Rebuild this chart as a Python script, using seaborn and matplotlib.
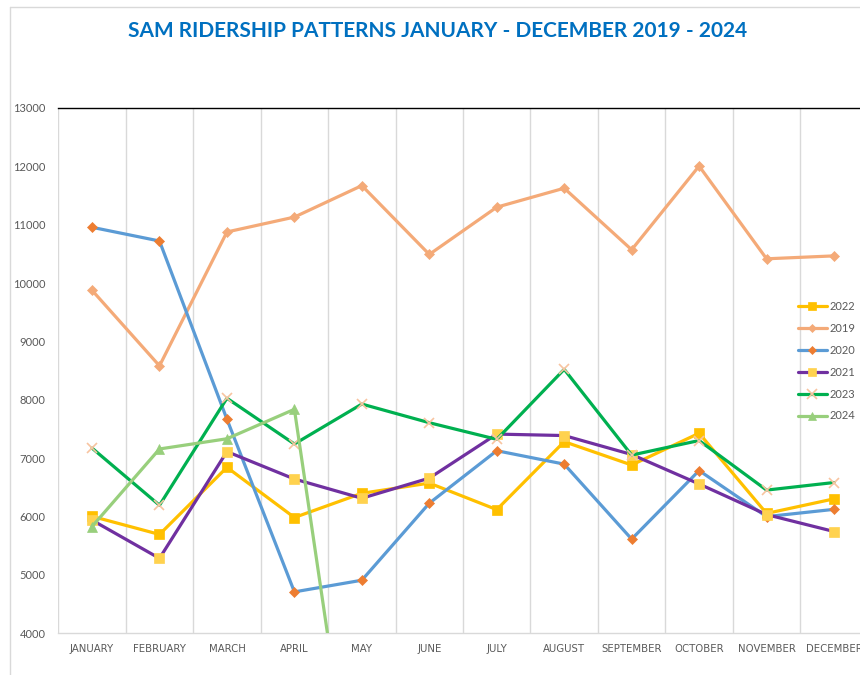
import numpy as np
import pandas as pd
import matplotlib
matplotlib.use("Agg")
import matplotlib.pyplot as plt
from matplotlib.lines import Line2D
import seaborn as sns

months = ["JANUARY", "FEBRUARY", "MARCH", "APRIL", "MAY", "JUNE", "JULY",
          "AUGUST", "SEPTEMBER", "OCTOBER", "NOVEMBER", "DECEMBER"]

y2022 = [6000, 5690, 6840, 5980, 6395, 6570, 6115, 7280, 6880, 7425, 6050, 6300]
y2019 = [9875, 8580, 10875, 11130, 11670, 10490, 11300, 11625, 10570, 12005, 10415, 10465]
y2020 = [10955, 10720, 7665, 4705, 4905, 6225, 7125, 6895, 5610, 6785, 5995, 6120]
y2021 = [5935, 5280, 7110, 6640, 6310, 6655, 7410, 7385, 7060, 6555, 6030, 5740]
y2023 = [7170, 6190, 8025, 7240, 7925, 7605, 7320, 8520, 7050, 7300, 6450, 6580]
y2024 = [5825, 7155, 7330, 7835, 0, np.nan, np.nan, np.nan, np.nan, np.nan, np.nan, np.nan]

years = ["2022", "2019", "2020", "2021", "2023", "2024"]
values = [y2022, y2019, y2020, y2021, y2023, y2024]

styles = {
    "2022": dict(color="#FFC000", marker="s", mfc="#FFC000", mec="#FFC000", ms=6.5),
    "2019": dict(color="#F4AA78", marker="D", mfc="#F4AA78", mec="#F4AA78", ms=5),
    "2020": dict(color="#5B9BD5", marker="D", mfc="#ED7D31", mec="#ED7D31", ms=5),
    "2021": dict(color="#7030A0", marker="s", mfc="#FFD24F", mec="#FFD24F", ms=6.5),
    "2023": dict(color="#00B050", marker="x", mfc="#F8C4A0", mec="#F8C4A0", ms=7),
    "2024": dict(color="#98CF7C", marker="^", mfc="#98CF7C", mec="#98CF7C", ms=6.5),
}

rows = []
for yr, vals in zip(years, values):
    for i, (m, v) in enumerate(zip(months, vals)):
        rows.append({"year": yr, "month": m, "pos": i, "riders": v})
df = pd.DataFrame(rows)

sns.set_theme(style="white")
plt.rcParams["font.family"] = ["Lato", "DejaVu Sans"]

fig = plt.figure(figsize=(8.6, 6.75), dpi=100)
ax = fig.add_axes([0.0678, 0.0622, 0.9412, 0.7778])

handles = {}
for yr in years:
    st = styles[yr]
    sub = df[df["year"] == yr].dropna()
    mew = 1.2 if st["marker"] == "x" else 0.5
    sns.lineplot(data=sub, x="pos", y="riders", ax=ax, sort=False,
                 color=st["color"], linewidth=2.3, marker=st["marker"],
                 markersize=st["ms"], markerfacecolor=st["mfc"],
                 markeredgecolor=st["mec"], markeredgewidth=mew,
                 legend=False, zorder=3)
    handles[yr] = Line2D([], [], color=st["color"], linewidth=2.3, marker=st["marker"],
                         markersize=st["ms"] - 0.5, markerfacecolor=st["mfc"],
                         markeredgecolor=st["mec"], markeredgewidth=mew)

ax.set_xlim(-0.5, len(months) - 0.5)
ax.set_ylim(4000, 13000)
ax.set_yticks(np.arange(4000, 13001, 1000))
ax.set_yticklabels([str(v) for v in range(4000, 13001, 1000)])
ax.set_xticks(np.arange(len(months)))
ax.set_xticklabels(months, fontfamily="DejaVu Sans", fontsize=7.3, color="#595959")
ax.set_xlabel("")
ax.set_ylabel("")

for b in np.arange(-0.5, len(months), 1.0):
    ax.axvline(b, color="#D9D9D9", linewidth=1, zorder=1)

ax.grid(False)
for side in ["left", "right"]:
    ax.spines[side].set_visible(False)
ax.spines["top"].set_visible(True)
ax.spines["top"].set_color("black")
ax.spines["top"].set_linewidth(1.0)
ax.spines["bottom"].set_color("#D9D9D9")
ax.spines["bottom"].set_linewidth(1.0)

ax.tick_params(axis="y", length=0, pad=9, labelsize=8, labelcolor="#595959")
ax.tick_params(axis="x", length=0, pad=8)

leg = ax.legend([handles[y] for y in years], years, loc="upper left",
                bbox_to_anchor=(798 / 860, 1 - 301 / 675), bbox_transform=fig.transFigure,
                frameon=False, fontsize=8, labelcolor="#595959", handlelength=2.6,
                handletextpad=0.2, labelspacing=0.98, borderpad=0, borderaxespad=0)

fig.text(438 / 860, 1 - 31 / 675, "SAM RIDERSHIP PATTERNS JANUARY - DECEMBER 2019 - 2024",
         ha="center", va="center", fontsize=15, fontweight="bold", color="#0070C0",
         family=["Lato", "DejaVu Sans"])

fig.add_artist(Line2D([10 / 860, 1], [1 - 7 / 675, 1 - 7 / 675], color="#D9D9D9", linewidth=1))
fig.add_artist(Line2D([10 / 860, 10 / 860], [0, 1 - 7 / 675], color="#D9D9D9", linewidth=1))

fig.savefig("out.png", dpi=100)
